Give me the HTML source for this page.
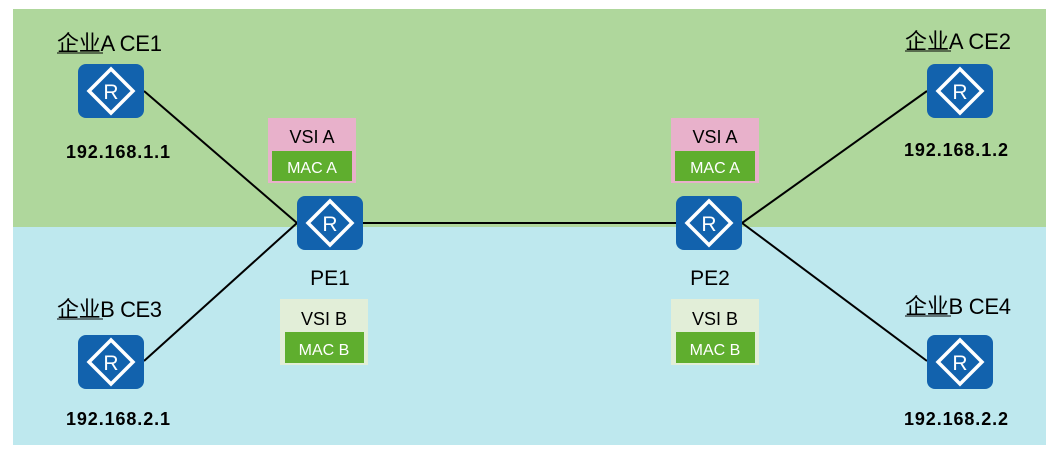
<!DOCTYPE html>
<html><head><meta charset="utf-8"><style>
html,body{margin:0;padding:0;background:#fff;}
svg{display:block;}
text{font-family:"Liberation Sans","Noto Sans CJK SC",sans-serif;}
</style></head><body>
<svg width="1058" height="453" viewBox="0 0 1058 453" xmlns="http://www.w3.org/2000/svg">
<defs>
<g id="r">
<rect x="0" y="0" width="66" height="54" rx="8" fill="#1262ad"/>
<polygon points="33,5 55,27 33,49 11,27" fill="none" stroke="#fff" stroke-width="3.5"/>
<text x="33" y="35" font-size="21" fill="#fff" text-anchor="middle">R</text>
</g>
</defs>
<rect x="13" y="9" width="1033" height="218" fill="#afd79c"/>
<rect x="13" y="227" width="1033" height="218" fill="#bee8ee"/>
<g stroke="#000" stroke-width="2">
<line x1="144" y1="91" x2="297" y2="223"/>
<line x1="297" y1="223" x2="144" y2="361"/>
<line x1="362" y1="223" x2="676" y2="223"/>
<line x1="742" y1="223" x2="927" y2="91"/>
<line x1="742" y1="223" x2="927" y2="361"/>
</g>
<use href="#r" x="78" y="64"/>
<use href="#r" x="78" y="335"/>
<use href="#r" x="297" y="196"/>
<use href="#r" x="676" y="196"/>
<use href="#r" x="927" y="64"/>
<use href="#r" x="927" y="335"/>
<rect x="268" y="118" width="88" height="65" fill="#e8b1cb"/>
<rect x="272" y="151" width="80" height="30" fill="#5fae2e"/>
<text x="312" y="143" font-size="18" text-anchor="middle">VSI A</text>
<text x="312" y="173" font-size="16" fill="#fff" text-anchor="middle">MAC A</text>
<rect x="671" y="118" width="88" height="65" fill="#e8b1cb"/>
<rect x="675" y="151" width="80" height="30" fill="#5fae2e"/>
<text x="715" y="143" font-size="18" text-anchor="middle">VSI A</text>
<text x="715" y="173" font-size="16" fill="#fff" text-anchor="middle">MAC A</text>
<rect x="280" y="299" width="88" height="66" fill="#e2eed8"/>
<rect x="285" y="332" width="79" height="31" fill="#5fae2e"/>
<text x="324" y="325" font-size="18" text-anchor="middle">VSI B</text>
<text x="324" y="355" font-size="16" fill="#fff" text-anchor="middle">MAC B</text>
<rect x="671" y="299" width="88" height="66" fill="#e2eed8"/>
<rect x="676" y="332" width="79" height="31" fill="#5fae2e"/>
<text x="715" y="325" font-size="18" text-anchor="middle">VSI B</text>
<text x="715" y="355" font-size="16" fill="#fff" text-anchor="middle">MAC B</text>
<g font-size="22">
<text x="57" y="51" textLength="105">企业A CE1</text>
<text x="57" y="317" textLength="105">企业B CE3</text>
<text x="905" y="49" textLength="106">企业A CE2</text>
<text x="905" y="314" textLength="106">企业B CE4</text>
</g>
<g stroke="#000" stroke-width="1">
<line x1="57" y1="53" x2="103" y2="53"/>
<line x1="57" y1="319" x2="103" y2="319"/>
<line x1="905" y1="51" x2="951" y2="51"/>
<line x1="905" y1="316" x2="951" y2="316"/>
</g>
<g font-size="21" text-anchor="middle">
<text x="330" y="285">PE1</text>
<text x="710" y="285">PE2</text>
</g>
<g font-size="18" font-weight="bold">
<text x="66" y="158" textLength="104">192.168.1.1</text>
<text x="66" y="425" textLength="104">192.168.2.1</text>
<text x="904" y="156" textLength="104">192.168.1.2</text>
<text x="904" y="425" textLength="104">192.168.2.2</text>
</g>
</svg>
</body></html>
